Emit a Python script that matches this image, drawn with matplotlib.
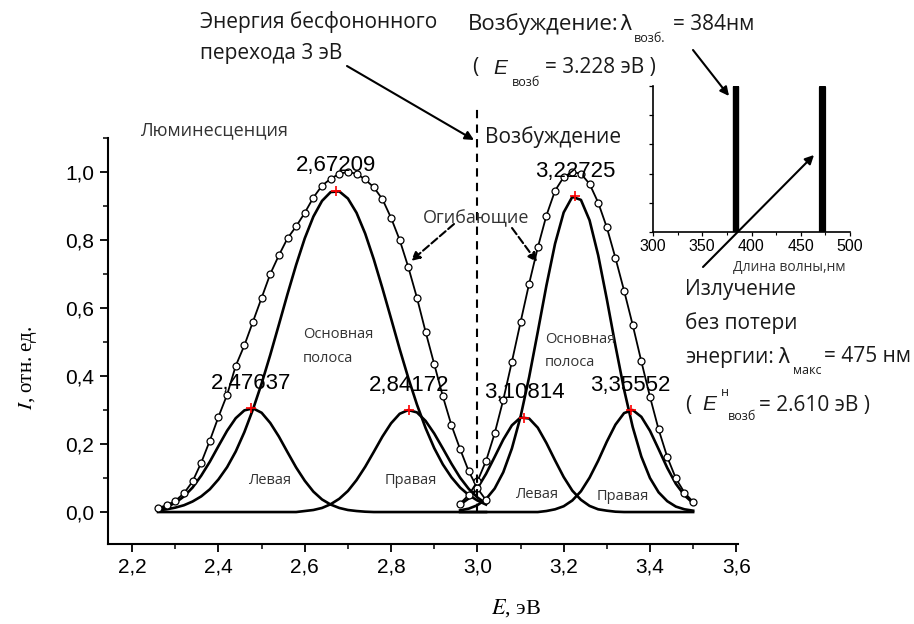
import matplotlib
matplotlib.use('Agg')
import matplotlib.pyplot as plt
from matplotlib.patches import FancyArrowPatch
from matplotlib.ticker import MultipleLocator, FuncFormatter

plt.rcParams['mathtext.fontset'] = 'stix'

# luminescence band (eV) and its three fitted components
lum_energy = [2.26, 2.28, 2.30, 2.32, 2.34, 2.36, 2.38, 2.40, 2.42, 2.44, 2.46, 2.48, 2.50,
              2.52, 2.54, 2.56, 2.58, 2.60, 2.62, 2.64, 2.66, 2.68, 2.70, 2.72, 2.74, 2.76,
              2.78, 2.80, 2.82, 2.84, 2.86, 2.88, 2.90, 2.92, 2.94, 2.96, 2.98, 3.00, 3.02]
lum_envelope = [0.012, 0.020, 0.033, 0.055, 0.090, 0.145, 0.210, 0.280, 0.345, 0.430, 0.490,
                0.560, 0.630, 0.700, 0.755, 0.805, 0.840, 0.880, 0.925, 0.960, 0.980, 0.995,
                1.000, 0.995, 0.978, 0.955, 0.920, 0.865, 0.800, 0.720, 0.630, 0.530, 0.435,
                0.340, 0.255, 0.185, 0.120, 0.070, 0.035]
lum_main = [0.005, 0.008, 0.013, 0.020, 0.031, 0.046, 0.067, 0.096, 0.132, 0.178, 0.235,
            0.302, 0.378, 0.462, 0.551, 0.641, 0.727, 0.805, 0.869, 0.915, 0.941, 0.943,
            0.922, 0.880, 0.819, 0.743, 0.658, 0.569, 0.479, 0.394, 0.316, 0.247, 0.188,
            0.140, 0.102, 0.072, 0.050, 0.034, 0.022]
lum_left = [0.008, 0.015, 0.027, 0.046, 0.072, 0.107, 0.148, 0.194, 0.239, 0.276, 0.299,
            0.305, 0.292, 0.262, 0.222, 0.176, 0.131, 0.092, 0.060, 0.037, 0.022, 0.012,
            0.006, 0.003, 0.001, 0, 0, 0, 0, 0, 0, 0, 0, 0, 0, 0, 0, 0, 0]
lum_right = [0, 0, 0, 0, 0, 0, 0, 0, 0, 0, 0, 0, 0, 0, 0, 0, 0,
             0.003, 0.006, 0.012, 0.023, 0.039, 0.062, 0.094, 0.133, 0.177, 0.222, 0.261,
             0.289, 0.300, 0.293, 0.268, 0.231, 0.187, 0.142, 0.101, 0.068, 0.043, 0.025]

# excitation band
exc_energy = [2.96, 2.98, 3.00, 3.02, 3.04, 3.06, 3.08, 3.10, 3.12, 3.14, 3.16, 3.18, 3.20,
              3.22, 3.24, 3.26, 3.28, 3.30, 3.32, 3.34, 3.36, 3.38, 3.40, 3.42, 3.44, 3.46,
              3.48, 3.50]
exc_envelope = [0.025, 0.050, 0.090, 0.150, 0.231, 0.330, 0.442, 0.558, 0.672, 0.778, 0.872,
                0.945, 0.985, 1.000, 0.995, 0.965, 0.910, 0.837, 0.747, 0.651, 0.550, 0.443,
                0.339, 0.243, 0.162, 0.099, 0.057, 0.030]
exc_main = [0.005, 0.010, 0.020, 0.038, 0.069, 0.117, 0.187, 0.280, 0.397, 0.530, 0.666,
            0.789, 0.881, 0.927, 0.918, 0.858, 0.755, 0.626, 0.489, 0.360, 0.250, 0.163,
            0.100, 0.058, 0.032, 0.016, 0.008, 0.004]
exc_left = [0.022, 0.040, 0.070, 0.112, 0.162, 0.213, 0.255, 0.278, 0.275, 0.248, 0.203,
            0.152, 0.103, 0.063, 0.036, 0.018, 0.008, 0.004, 0.001, 0, 0, 0, 0, 0, 0, 0, 0, 0]
exc_right = [0, 0, 0, 0, 0, 0, 0, 0, 0, 0, 0.003, 0.008, 0.017, 0.034, 0.061, 0.101, 0.151,
             0.207, 0.257, 0.291, 0.300, 0.280, 0.239, 0.185, 0.130, 0.083, 0.049, 0.026]

peak_energy = [2.47637, 2.67209, 2.84172, 3.10814, 3.22725, 3.35552]
peak_height = [0.305, 0.945, 0.300, 0.278, 0.929, 0.300]
peak_labels = ['2,47637', '2,67209', '2,84172', '3,10814', '3,22725', '3,35552']

zpl_energy = 3.0

# inset: excitation and emission lines (nm)
inset_wavelength = [384, 472]
inset_height = [4.95, 4.95]

W, H = 914, 624
fig = plt.figure(figsize=(W / 100, H / 100), dpi=100)
ax = fig.add_axes([108 / W, 1 - 544 / H, 630 / W, 406 / H])

for comp in (lum_left, lum_main, lum_right):
    ax.plot(lum_energy, comp, '-', color='k', lw=1.9)
for comp in (exc_left, exc_main, exc_right):
    ax.plot(exc_energy, comp, '-', color='k', lw=1.9)
for env_x, env_y in ((lum_energy, lum_envelope), (exc_energy, exc_envelope)):
    ax.plot(env_x, env_y, '-', color='k', lw=1.3, marker='o', ms=5, mfc='white',
            mec='k', mew=0.9)

ax.plot(peak_energy, peak_height, '+', color='red', ms=7, mew=1.2)
for e, h, lbl in zip(peak_energy, peak_height, peak_labels):
    ax.annotate(lbl, (e, h), xytext=(0, 18), textcoords='offset points', ha='center',
                va='center', fontsize=16, family='Liberation Sans')

ax.axvline(zpl_energy, ymin=0.08, ymax=1.074, color='k', lw=1.5, dashes=(4, 3),
           clip_on=False)

ax.set_xlim(2.144, 3.604)
ax.set_ylim(-0.094, 1.10)
ax.xaxis.set_major_locator(MultipleLocator(0.2))
ax.xaxis.set_minor_locator(MultipleLocator(0.1))
ax.yaxis.set_major_locator(MultipleLocator(0.2))
ax.yaxis.set_minor_locator(MultipleLocator(0.1))
comma = FuncFormatter(lambda v, p: f'{v:.1f}'.replace('.', ','))
ax.xaxis.set_major_formatter(comma)
ax.yaxis.set_major_formatter(comma)
for s in ('top', 'right'):
    ax.spines[s].set_visible(False)
for s in ('left', 'bottom'):
    ax.spines[s].set_linewidth(1.5)
ax.tick_params(which='major', direction='out', length=6, width=1.3, labelsize=15, pad=4)
ax.tick_params(which='minor', direction='out', length=3.5, width=1.1)
for t in ax.get_xticklabels() + ax.get_yticklabels():
    t.set_family('Liberation Sans')

ax.set_xlabel('$E$, эВ', family='Liberation Serif', fontsize=16)
ax.xaxis.set_label_coords(0.647, -0.13)
ax.set_ylabel('$I$, отн. ед.', family='Liberation Serif', fontsize=15)
ax.yaxis.set_label_coords(-0.11, 0.433)

# inset
ins = fig.add_axes([653 / W, 1 - 232 / H, 197 / W, 146 / H])
ins.patch.set_alpha(0)
for w, h, lw in zip(inset_wavelength, inset_height, (4.6, 5.2)):
    ins.plot([w, w], [0, h], color='k', lw=lw, solid_capstyle='round')
ins.set_xlim(300, 500)
ins.set_ylim(0, 5)
ins.xaxis.set_major_locator(MultipleLocator(50))
ins.xaxis.set_minor_locator(MultipleLocator(25))
ins.yaxis.set_major_locator(MultipleLocator(1))
ins.set_yticklabels([])
for s in ('top', 'right'):
    ins.spines[s].set_visible(False)
for s in ('left', 'bottom'):
    ins.spines[s].set_linewidth(1.2)
ins.tick_params(which='major', direction='out', length=3, width=0.9, labelsize=11.5, pad=2)
ins.tick_params(which='minor', direction='out', length=2, width=0.8)
for t in ins.get_xticklabels():
    t.set_family('Liberation Sans')


def put(x, y, s, size=15, **kw):
    kw.setdefault('family', 'Open Sans')
    kw.setdefault('color', '#1a1a1a')
    fig.text(x / W, 1 - y / H, s, fontsize=size, va='center', **kw)


def arrow(x1, y1, x2, y2, ls='-'):
    fig.add_artist(FancyArrowPatch((x1 / W, 1 - y1 / H), (x2 / W, 1 - y2 / H),
                                   arrowstyle='-|>', color='k', lw=1.5, linestyle=ls,
                                   mutation_scale=13, shrinkA=0, shrinkB=0, zorder=5))


put(200, 22, 'Энергия бесфононного')
put(200, 54, 'перехода 3 эВ')
put(140, 130, 'Люминесценция', 13, color='#333333')
put(468, 24, 'Возбуждение:', 16)
put(619, 24, 'λ', 15, family='DejaVu Sans')
put(634, 38, 'возб.', 9)
put(673, 24, '= 384нм')
put(472, 68, '(')
put(493, 68, 'E', 15, style='italic', family='Liberation Sans')
put(512, 82, 'возб', 9)
put(545, 68, '= 3.228 эВ )')
put(485, 137, 'Возбуждение')
put(476, 218, 'Огибающие', 13, ha='center', color='#333333')
put(303, 335, 'Основная', 10.5, color='#333333')
put(303, 358, 'полоса', 10.5, color='#333333')
put(545, 340, 'Основная', 10.5, color='#333333')
put(545, 363, 'полоса', 10.5, color='#333333')
put(248, 480, 'Левая', 10.5, color='#333333')
put(385, 480, 'Правая', 10.5, color='#333333')
put(515, 495, 'Левая', 10.5, color='#333333')
put(597, 497, 'Правая', 10.5, color='#333333')
put(685, 290, 'Излучение')
put(685, 323, 'без потери')
put(685, 357, 'энергии:')
put(777, 357, 'λ', 15, family='DejaVu Sans')
put(793, 370, 'макс', 9)
put(824, 357, '= 475 нм')
put(685, 405, '(')
put(702, 405, 'E', 15, style='italic', family='Liberation Sans')
put(721, 392, 'н', 9)
put(728, 416, 'возб', 9)
put(759, 405, '= 2.610 эВ )')
put(733, 268, 'Длина волны,нм', 10, color='#333333')

arrow(347, 66, 474, 140)
arrow(693, 50, 729, 96)
arrow(703, 267, 814, 155)
arrow(454, 224, 411, 261, ls='--')
arrow(512, 228, 537, 262, ls='--')

fig.savefig('out.png', dpi=100)
